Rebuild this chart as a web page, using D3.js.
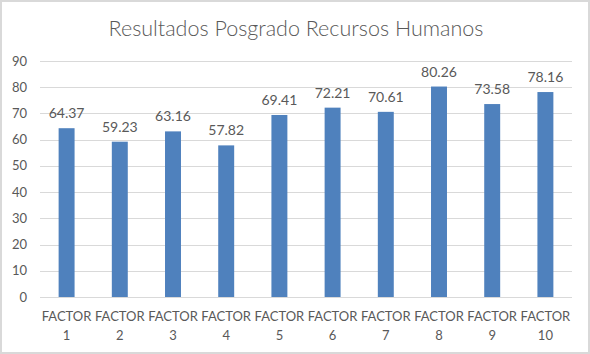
<!DOCTYPE html>
<html><head><meta charset="utf-8">
<script src="https://cdn.jsdelivr.net/npm/d3@7"></script>
<style>body{margin:0;background:#fff}svg{display:block}text{font-family:Lato,"Open Sans",sans-serif;fill:#595959}</style>
</head><body>
<script>
const categories = ["FACTOR 1","FACTOR 2","FACTOR 3","FACTOR 4","FACTOR 5","FACTOR 6","FACTOR 7","FACTOR 8","FACTOR 9","FACTOR 10"];
const values = [64.37,59.23,63.16,57.82,69.41,72.21,70.61,80.26,73.58,78.16];
const yTicks = [0,10,20,30,40,50,60,70,80,90];
const title = "Resultados Posgrado Recursos Humanos";

const W=590,H=354;
const svg=d3.select("body").append("svg").attr("width",W).attr("height",H);
svg.append("rect").attr("x",1).attr("y",1).attr("width",W-2).attr("height",H-2).attr("fill","#fff").attr("stroke","#d9d9d9").attr("stroke-width",2);

const x=d3.scaleBand().domain(categories).range([40,572]).paddingInner(0.7).paddingOuter(0.35);
const y=d3.scaleLinear().domain([0,90]).range([297,61]);

svg.append("text").attr("x",W/2+1).attr("y",36).attr("text-anchor","middle").attr("font-size",21.5).attr("font-weight",300).text(title);

const g=svg.append("g");
g.selectAll("line.grid").data(yTicks).enter().append("line")
 .attr("x1",40).attr("x2",572).attr("y1",d=>Math.round(y(d))+0.5).attr("y2",d=>Math.round(y(d))+0.5)
 .attr("stroke","#d9d9d9").attr("stroke-width",1);
g.selectAll("text.yt").data(yTicks).enter().append("text")
 .attr("x",27).attr("y",d=>y(d)+4.5).attr("text-anchor","end").attr("font-size",13).text(d=>d);

g.selectAll("rect.bar").data(values).enter().append("rect")
 .attr("x",(d,i)=>x(categories[i])).attr("width",x.bandwidth())
 .attr("y",d=>y(d)).attr("height",d=>y(0)-y(d)).attr("fill","#4f81bd");

g.selectAll("text.lbl").data(values).enter().append("text")
 .attr("x",(d,i)=>x(categories[i])+x.bandwidth()/2).attr("y",d=>y(d)-10)
 .attr("text-anchor","middle").attr("font-size",14).text(d=>d.toFixed(2));

categories.forEach((c,i)=>{
  const parts=c.split(" ");
  const cx=x(c)+x.bandwidth()/2;
  const t=g.append("text").attr("text-anchor","middle").attr("font-size",13);
  t.append("tspan").attr("x",cx).attr("y",321).text(parts[0]);
  t.append("tspan").attr("x",cx).attr("y",340).text(parts[1]);
});
</script>
</body></html>
